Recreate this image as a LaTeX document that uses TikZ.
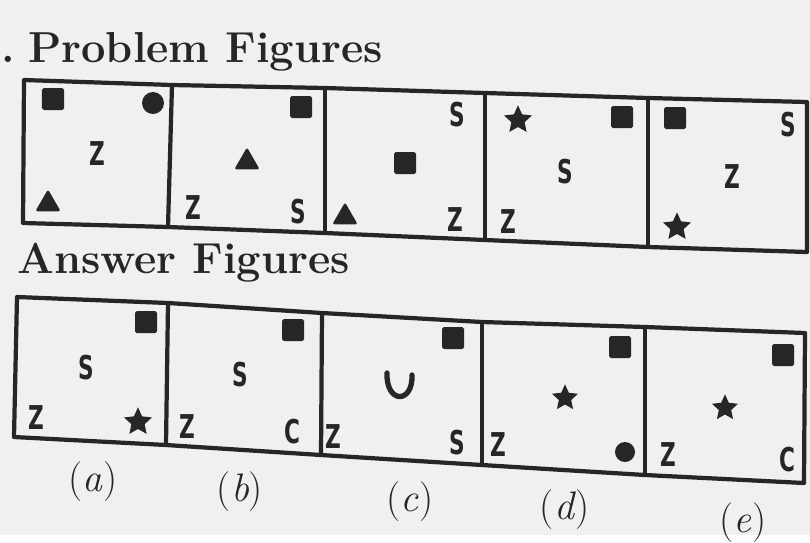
\documentclass[tikz,border=0pt]{standalone}
\usepackage{fontspec}
\usepackage{tikz}
\usetikzlibrary{shapes.geometric, positioning}

\newfontfamily\glyphfont{DejaVu Sans}
\newcommand{\ch}[1]{\scalebox{0.66}[1]{\fontsize{28}{30}\selectfont\glyphfont\bfseries #1}}
\newcommand{\opt}[1]{(\textit{#1})}

\begin{document}
\begin{tikzpicture}[x=0.03cm, y=-0.03cm,
    frame/.style={line width=3.6pt, draw=black!85, line join=round},
    sq/.style={fill=black!85, minimum size=0.66cm, inner sep=0, rounded corners=1.5pt},
    blob/.style={circle, fill=black!85, minimum size=0.66cm, inner sep=0},
    tri/.style={regular polygon, regular polygon sides=3, fill=black!85, minimum size=0.88cm, inner sep=0, rounded corners=2pt},
    pent/.style={star, star points=5, star point ratio=2.1, fill=black!85, minimum size=0.88cm, inner sep=0},
    ltr/.style={text=black!85, inner sep=0},
    lab/.style={text=black!85, font=\fontsize{34}{36}\selectfont, inner sep=0},
    head/.style={text=black!85, font=\fontsize{37}{40}\selectfont\bfseries, anchor=base west, inner sep=0}]

        \fill[black!6] (0,0) rectangle (810,535);

        % headings
        \node[head, anchor=base east] (dot) at (15,62) {.};
        \node[head] (prob) at (28,62) {Problem Figures};
        \node[head] (ans) at (17,273) {Answer Figures};

        % problem figures frame
        \coordinate (pt0) at (24,80);   \coordinate (pb0) at (23,223);
        \coordinate (pt1) at (172,85);  \coordinate (pb1) at (168,227);
        \coordinate (pt2) at (325,88);  \coordinate (pb2) at (325,233);
        \coordinate (pt3) at (485,93);  \coordinate (pb3) at (485,240);
        \coordinate (pt4) at (648,98);  \coordinate (pb4) at (648,247);
        \coordinate (pt5) at (807,102); \coordinate (pb5) at (807,252);
        \draw[frame] (pt0) -- (pt1) -- (pt2) -- (pt3) -- (pt4) -- (pt5)
            -- (pb5) -- (pb4) -- (pb3) -- (pb2) -- (pb1) -- (pb0) -- cycle;
        \foreach \i in {1,...,4}
            \draw[frame] (pt\i) -- (pb\i);

        % answer figures frame
        \coordinate (at0) at (17,297);  \coordinate (ab0) at (14,437);
        \coordinate (at1) at (168,303); \coordinate (ab1) at (166,445);
        \coordinate (at2) at (322,313); \coordinate (ab2) at (321,455);
        \coordinate (at3) at (482,322); \coordinate (ab3) at (482,465);
        \coordinate (at4) at (645,327); \coordinate (ab4) at (645,475);
        \coordinate (at5) at (805,333); \coordinate (ab5) at (804,483);
        \draw[frame] (at0) -- (at1) -- (at2) -- (at3) -- (at4) -- (at5)
            -- (ab5) -- (ab4) -- (ab3) -- (ab2) -- (ab1) -- (ab0) -- cycle;
        \foreach \i in {1,...,4}
            \draw[frame] (at\i) -- (ab\i);

        % problem figure 1
        \node[sq] (p1sq) at (53,99) {};
        \node[blob] (p1ci) at (153,103) {};
        \node[ltr] (p1z) at (97,154) {\ch{Z}};
        \node[tri] (p1tr) at (48,204) {};
        % problem figure 2
        \node[sq] (p2sq) at (301,107) {};
        \node[tri] (p2tr) at (247,162) {};
        \node[ltr] (p2z) at (193,208) {\ch{Z}};
        \node[ltr] (p2s) at (298,212) {\ch{S}};
        % problem figure 3
        \node[ltr] (p3s) at (457,115) {\ch{S}};
        \node[sq] (p3sq) at (405,163) {};
        \node[tri] (p3tr) at (345,217) {};
        \node[ltr] (p3z) at (455,220) {\ch{Z}};
        % problem figure 4
        \node[pent] (p4st) at (518,120) {};
        \node[sq] (p4sq) at (622,117) {};
        \node[ltr] (p4s) at (565,172) {\ch{S}};
        \node[ltr] (p4z) at (508,222) {\ch{Z}};
        % problem figure 5
        \node[sq] (p5sq) at (675,118) {};
        \node[ltr] (p5s) at (788,125) {\ch{S}};
        \node[ltr] (p5z) at (732,177) {\ch{Z}};
        \node[pent] (p5st) at (677,227) {};

        % answer (a)
        \node[sq] (asq) at (146,322) {};
        \node[ltr] (as) at (86,368) {\ch{S}};
        \node[ltr] (az) at (36,418) {\ch{Z}};
        \node[pent] (ast) at (138,422) {};
        % answer (b)
        \node[sq] (bsq) at (293,330) {};
        \node[ltr] (bs) at (240,375) {\ch{S}};
        \node[ltr] (bz) at (187,427) {\ch{Z}};
        \node[ltr] (bc) at (292,432) {\ch{C}};
        % answer (c)
        \node[sq] (csq) at (453,338) {};
        \coordinate (cu) at (387,373);
        \draw[line width=4.5pt, black!85, line cap=round] (cu) .. controls (386,404) and (413,404) .. (412,375);
        \node[ltr] (cz) at (333,437) {\ch{Z}};
        \node[ltr] (cs) at (457,443) {\ch{S}};
        % answer (d)
        \node[sq] (dsq) at (620,347) {};
        \node[pent, minimum size=0.82cm] (dst) at (565,398) {};
        \node[ltr] (dz) at (498,445) {\ch{Z}};
        \node[blob, minimum size=0.6cm] (dci) at (625,452) {};
        % answer (e)
        \node[sq] (esq) at (783,355) {};
        \node[pent, minimum size=0.82cm] (est) at (725,408) {};
        \node[ltr] (ez) at (668,455) {\ch{Z}};
        \node[ltr] (ec) at (787,460) {\ch{C}};

        % option labels
        \node[lab] (la) at (93,482) {\opt{a}};
        \node[lab] (lb) at (240,492) {\opt{b}};
        \node[lab] (lc) at (410,502) {\opt{c}};
        \node[lab] (ld) at (565,510) {\opt{d}};
        \node[lab] (le) at (743,523) {\opt{e}};

\end{tikzpicture}
\end{document}
